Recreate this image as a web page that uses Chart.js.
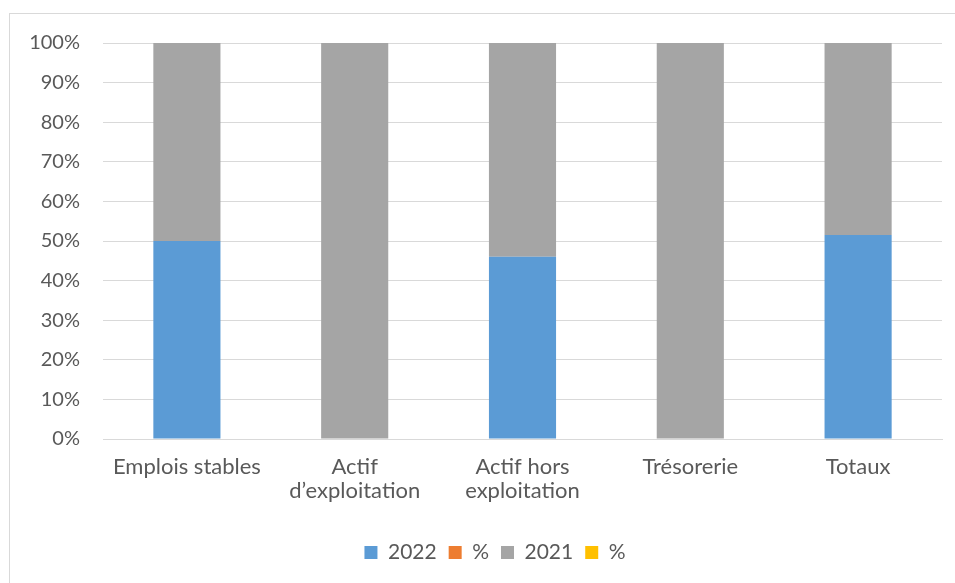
<!DOCTYPE html>
<html>
<head>
<meta charset="utf-8">
<script src="https://cdn.jsdelivr.net/npm/chart.js@4.4.0/dist/chart.umd.min.js"></script>
<style>
  html, body { margin: 0; padding: 0; background: #fff; overflow: hidden; }
  #wrap { position: relative; width: 955px; height: 583px; }
  #frame { position: absolute; left: 9px; top: 13px; width: 980px; height: 620px; border: 1px solid #d9d9d9; box-sizing: border-box; }
  canvas { position: absolute; left: 0; top: 0; }
</style>
</head>
<body>
<div id="wrap">
  <div id="frame"></div>
  <canvas id="container-chart" width="955" height="583"></canvas>
</div>
<script>
// categories et valeurs (en % du total, graphique 100% empilé)
const categories = [
  'Emplois stables',
  ['Actif', 'd\u2019exploitation'],
  ['Actif hors', 'exploitation'],
  'Trésorerie',
  'Totaux'
];
const serie2022 = [50, 0, 46, 0, 51.5];
const seriePct1 = [0, 0, 0, 0, 0];
const serie2021 = [50, 100, 54, 100, 48.5];
const seriePct2 = [0, 0, 0, 0, 0];
const yTicks = [0, 10, 20, 30, 40, 50, 60, 70, 80, 90, 100];

const textColor = '#595959';
const fontFamily = 'Lato, "Open Sans", sans-serif';

// décale la légende un peu à droite (centrée sur le cadre, pas sur le canvas)
const legendShift = {
  id: 'legendShift',
  afterLayout(chart) {
    chart.legend.left += 19;
    chart.legend.right += 19;
  }
};

const ctx = document.querySelector('#container-chart').getContext('2d');

const configChart = {
  type: 'bar',
  data: {
    labels: categories,
    datasets: [
      { label: '2022', data: serie2022, backgroundColor: '#5b9bd5' },
      { label: '%', data: seriePct1, backgroundColor: '#ed7d31' },
      { label: '2021', data: serie2021, backgroundColor: '#a5a5a5' },
      { label: '%', data: seriePct2, backgroundColor: '#ffc000' }
    ]
  },
  options: {
    responsive: false,
    animation: false,
    layout: { padding: { left: 10, right: 13, top: 43, bottom: 10 } },
    datasets: {
      bar: { barPercentage: 0.5, categoryPercentage: 0.8, borderWidth: 0 }
    },
    scales: {
      x: {
        stacked: true,
        grid: { display: false, drawTicks: false },
        border: { color: '#d9d9d9' },
        ticks: {
          color: textColor,
          font: { family: fontFamily, size: 22, lineHeight: 1.1 },
          padding: 16,
          maxRotation: 0,
          autoSkip: false
        },
        afterFit: (scale) => { scale.height = 91; }
      },
      y: {
        stacked: true,
        min: 0,
        max: 100,
        grid: { color: '#d9d9d9', drawTicks: false },
        border: { display: false },
        afterBuildTicks: (scale) => { scale.ticks = yTicks.map(v => ({ value: v })); },
        ticks: {
          color: textColor,
          font: { family: fontFamily, size: 20 },
          padding: 23,
          callback: (v) => v + '%'
        },
        afterFit: (scale) => { scale.width = 93; }
      }
    },
    plugins: {
      legend: {
        position: 'bottom',
        labels: {
          color: textColor,
          font: { family: fontFamily, size: 21 },
          boxWidth: 13,
          boxHeight: 13,
          padding: 12
        }
      },
      tooltip: { enabled: false }
    }
  },
  plugins: [legendShift]
};

const myChart = new Chart(ctx, configChart);
</script>
</body>
</html>
